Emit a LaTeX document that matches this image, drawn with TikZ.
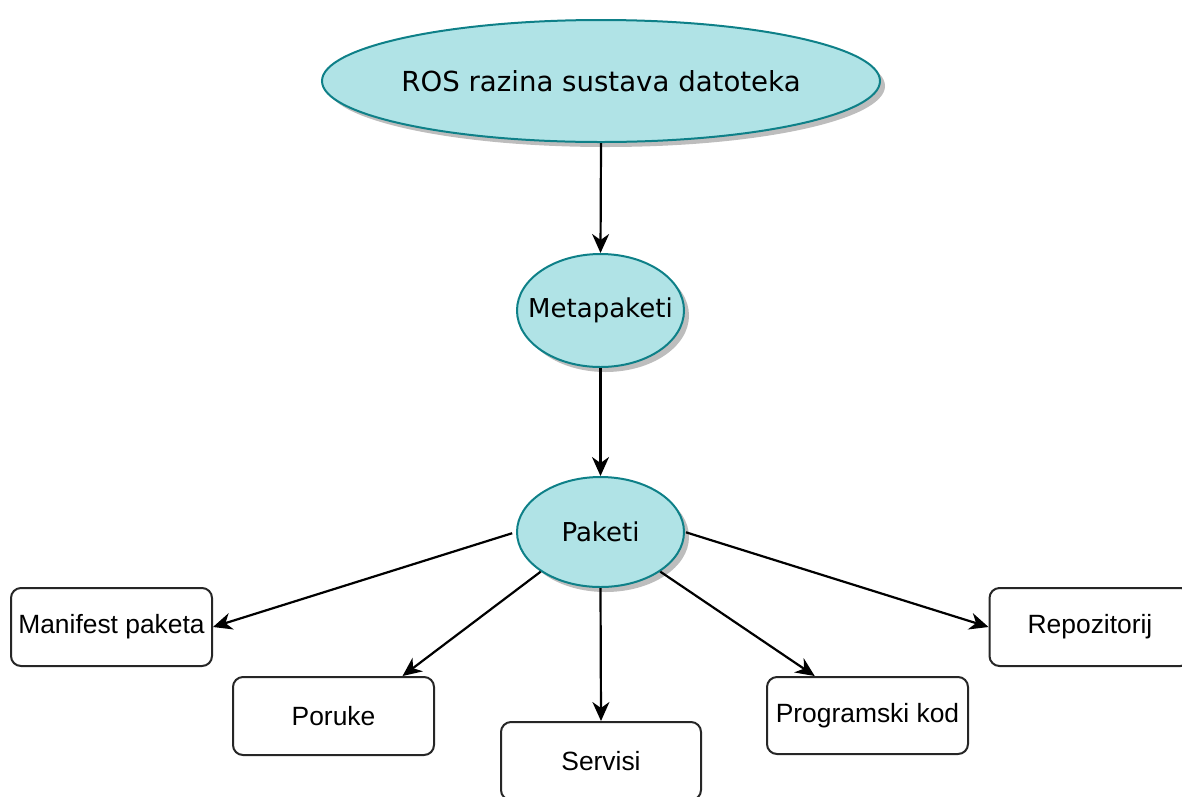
\documentclass[tikz,border=0pt]{standalone}
\usepackage{fontspec}
\setmainfont{Liberation Sans}
\newfontfamily\ellfont{DejaVu Sans}
\usetikzlibrary{shapes.geometric,arrows.meta,shadows,calc}
\definecolor{ellfill}{HTML}{B0E3E6}
\definecolor{elldraw}{HTML}{0E8088}
\definecolor{shadowgray}{HTML}{BDBDBD}
\tikzset{
  ell/.style={ellipse, draw=elldraw, line width=2pt, fill=ellfill, inner sep=0pt,
    font=\ellfont\fontsize{26}{30}\selectfont,
    drop shadow={shadow xshift=5pt, shadow yshift=-5pt, fill=shadowgray, opacity=1}},
  box/.style={rectangle, rounded corners=10pt, draw=black!85, line width=2pt, fill=white,
    minimum width=201pt, minimum height=78pt, inner sep=0pt,
    font=\fontsize{26.4}{30}\selectfont},
  arr/.style={-{Stealth[length=19pt,width=17pt,inset=6pt]}, line width=2.2pt}
}
\begin{document}
\begin{tikzpicture}[x=1pt,y=-1pt]
\useasboundingbox (0,0) rectangle (1182,796);
\clip (0,0) rectangle (1182,796);
\node[ell, minimum width=558pt, minimum height=122pt, font=\ellfont\fontsize{27.6}{32}\selectfont] (ros) at (601,81) {\makebox[0pt][c]{ROS razina sustava datoteka}};
\node[ell, minimum width=167pt, minimum height=113pt] (meta) at (600.5,310.5) {\makebox[0pt][c]{Metapaketi}};
\node[ell, minimum width=167pt, minimum height=110pt] (pak) at (600.5,532) {\makebox[0pt][c]{Paketi}};
\node[box] (man) at (111.5,627) {Manifest paketa};
\node[box] (por) at (333.5,716) {Poruke};
\node[box, minimum width=200pt] (ser) at (601,761) {Servisi};
\node[box, minimum height=77pt] (prog) at (867.5,715.5) {Programski kod};
\node[box] (repo) at (1090,627) {Repozitorij};
\draw[arr] (ros.south) -- (meta.north);
\draw[arr] (meta.south) -- (pak.north);
\draw[arr, shorten <=4pt] (pak.west) -- (man.east);
\draw[arr] (pak.south west) -- ($(por.north west)!0.84!(por.north east)$);
\draw[arr] (pak.south) -- (ser.north);
\draw[arr] (pak.south east) -- ($(prog.north west)!0.24!(prog.north east)$);
\draw[arr, shorten <=1pt] (pak.east) -- (repo.west);
\end{tikzpicture}
\end{document}
